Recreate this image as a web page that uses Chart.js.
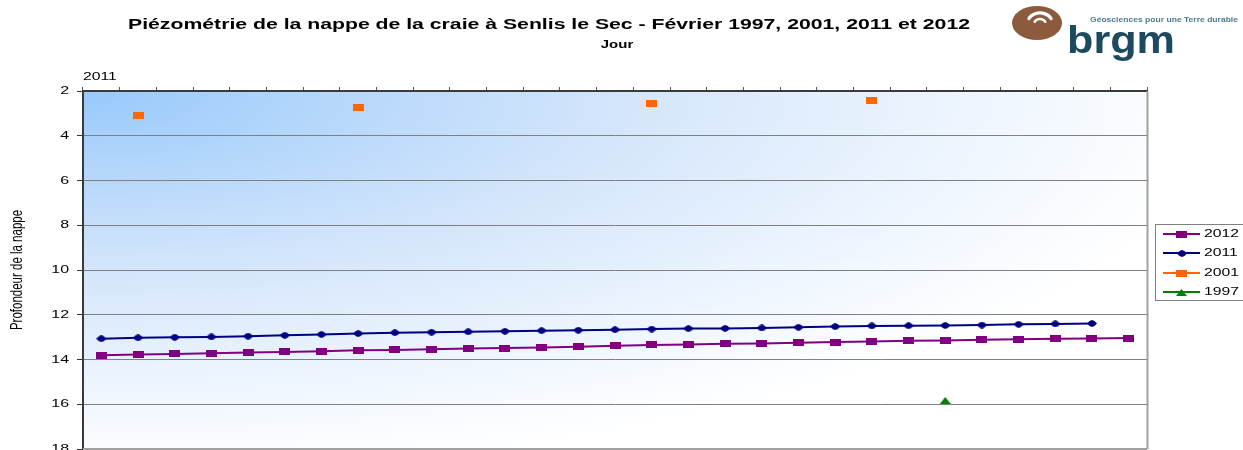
<!DOCTYPE html>
<html><head><meta charset="utf-8">
<script src="https://cdn.jsdelivr.net/npm/chart.js@4.4.1/dist/chart.umd.min.js"></script>
<style>
html,body{margin:0;padding:0;background:#fff;overflow:hidden;width:1243px;height:450px}
#wrap{position:relative;width:1243px;height:450px;overflow:hidden}
canvas{display:block}
</style>
</head><body><div id="wrap"><canvas id="c" width="1243" height="456" style="width:1243px;height:456px"></canvas></div>
<script>
// ---- Données ----
const jours = ['1','2','3','4','5','6','7','8','9','10','11','12','13','14','15','16','17','18','19','20','21','22','23','24','25','26','27','28','29'];
const profondeur2012 = [13.81,13.78,13.75,13.72,13.69,13.66,13.63,13.59,13.57,13.54,13.51,13.49,13.46,13.43,13.39,13.35,13.33,13.30,13.28,13.25,13.22,13.19,13.16,13.15,13.12,13.09,13.07,13.06,13.04];
const profondeur2011 = [13.07,13.03,13.01,12.99,12.96,12.92,12.88,12.84,12.80,12.78,12.76,12.74,12.71,12.69,12.67,12.64,12.62,12.61,12.59,12.56,12.53,12.50,12.49,12.48,12.46,12.43,12.41,12.39];
const jours2001 = [2, 8, 16, 22];
const profondeur2001 = [3.08, 2.74, 2.55, 2.43];
const jours1997 = [24];
const profondeur1997 = [15.83];
const yMin = 2, yMax = 18, yPas = 2;
const titre = 'Piézométrie de la nappe de la craie à Senlis le Sec - Février 1997, 2001, 2011 et 2012';
const titreX = 'Jour';
const titreY = 'Profondeur de la nappe';
const etiquetteAnnee = '2011';
const logoSlogan = 'Géosciences pour une Terre durable';
const logoNom = 'brgm';

function sparse(days, vals) {
  const arr = jours.map(() => null);
  days.forEach((d, i) => { arr[jours.indexOf(String(d))] = vals[i]; });
  return arr;
}

// ---- Marqueurs ----
function mk(w, h, draw) { const c = document.createElement('canvas'); c.width = w; c.height = h; draw(c.getContext('2d'), w, h); return c; }
const mSquarePurple = mk(11, 7, (g, w, h) => { g.fillStyle = '#800080'; g.fillRect(0, 0, w, h); });
const mSquareOrange = mk(11, 7, (g, w, h) => { g.fillStyle = '#ff6600'; g.fillRect(0, 0, w, h); });
const mDiamond = mk(10, 7, (g, w, h) => { g.fillStyle = '#000080'; g.beginPath(); g.moveTo(0, h/2); g.quadraticCurveTo(w/4, 0.3, w/2, 0); g.quadraticCurveTo(3*w/4, 0.3, w, h/2); g.quadraticCurveTo(3*w/4, h-0.3, w/2, h); g.quadraticCurveTo(w/4, h-0.3, 0, h/2); g.fill(); });
const mTriangle = mk(11, 7, (g, w, h) => { g.fillStyle = '#008000'; g.beginPath(); g.moveTo(w/2, 0); g.lineTo(w, h); g.lineTo(0, h); g.closePath(); g.fill(); });

const FONT = '"Liberation Sans", Arial, Helvetica, sans-serif';

function txt(ctx, s, x, y, font, color, align, sx, fitW) {
  ctx.save();
  ctx.font = font; ctx.fillStyle = color; ctx.textBaseline = 'middle'; ctx.textAlign = align;
  let k = sx;
  if (fitW) k = fitW / ctx.measureText(s).width;
  ctx.translate(x, y); ctx.scale(k, 1);
  ctx.fillText(s, 0, 0);
  ctx.restore();
}

const decor = {
  id: 'decor',
  beforeDraw(chart) {
    const ctx = chart.ctx, a = chart.chartArea;
    ctx.save();
    ctx.fillStyle = '#ffffff'; ctx.fillRect(0, 0, chart.width, chart.height);
    ctx.beginPath(); ctx.rect(a.left, a.top, a.right - a.left, a.bottom - a.top); ctx.clip();
    ctx.translate(a.left, a.top); ctx.scale(1, 1/3);
    const g = ctx.createRadialGradient(0, 0, 0, 0, 0, 1150);
    g.addColorStop(0, '#98c9fb');
    g.addColorStop(0.2, '#b3d6fb');
    g.addColorStop(0.46, '#d3e5fb');
    g.addColorStop(0.75, '#ecf4fe');
    g.addColorStop(1, '#ffffff');
    ctx.fillStyle = g; ctx.fillRect(0, 0, a.right - a.left + 2, (a.bottom - a.top) * 3 + 2);
    ctx.restore();
  },
  afterDraw(chart) {
    const ctx = chart.ctx, a = chart.chartArea, ys = chart.scales.y;
    ctx.save();
    ctx.strokeStyle = '#a0a0a0'; ctx.lineWidth = 2;
    ctx.beginPath(); ctx.moveTo(a.right + 0.5, a.top); ctx.lineTo(a.right + 0.5, a.bottom); ctx.stroke();
    ctx.beginPath(); ctx.moveTo(a.left, a.bottom); ctx.lineTo(a.right, a.bottom); ctx.stroke();
    ctx.restore();
    ys.ticks.forEach(t => {
      txt(ctx, String(t.value), a.left - 14, ys.getPixelForValue(t.value), '11px ' + FONT, '#000', 'right', 1.45);
    });
    ctx.save();
    ctx.translate(17.5, (a.top + a.bottom) / 2); ctx.scale(1.4, 1); ctx.rotate(-Math.PI / 2);
    ctx.font = '11.5px ' + FONT; ctx.fillStyle = '#000'; ctx.textAlign = 'center'; ctx.textBaseline = 'middle';
    ctx.fillText(titreY, 0, 0);
    ctx.restore();
    txt(ctx, titre, 549, 25, 'bold 14px ' + FONT, '#000', 'center', 1, 842);
    txt(ctx, titreX, (a.left + a.right) / 2 + 2, 45, 'bold 11px ' + FONT, '#000', 'center', 1.36);
    txt(ctx, etiquetteAnnee, a.left, 77, '11px ' + FONT, '#000', 'left', 1.43);
    ctx.save();
    ctx.fillStyle = '#ffffff'; ctx.fillRect(1156, 224, 90, 77);
    ctx.strokeStyle = '#808080'; ctx.lineWidth = 1; ctx.strokeRect(1155.5, 224.5, 90, 76);
    ctx.restore();
    [0, 1, 2, 3].forEach((di, i) => {
      const ds = chart.data.datasets[di];
      const y = Math.round(234 + i * 19.4);
      ctx.save();
      ctx.strokeStyle = ds.borderColor; ctx.lineWidth = 2;
      ctx.beginPath(); ctx.moveTo(1163, y); ctx.lineTo(1200, y); ctx.stroke();
      const m = ds.pointStyle;
      ctx.drawImage(m, Math.round(1181.5 - m.width / 2), Math.round(y - m.height / 2));
      ctx.restore();
      txt(ctx, ds.label, 1204, y, '11px ' + FONT, '#000', 'left', 1.43);
    });
    ctx.save();
    ctx.fillStyle = '#8c5b3d';
    ctx.beginPath(); ctx.ellipse(1037, 23, 25, 17, 0, 0, Math.PI * 2); ctx.fill();
    ctx.strokeStyle = '#ffffff'; ctx.lineCap = 'round';
    ctx.lineWidth = 3.2;
    ctx.beginPath(); ctx.ellipse(1040, 22, 12, 9, 0, Math.PI * 1.12, Math.PI * 1.88); ctx.stroke();
    ctx.lineWidth = 2.6;
    ctx.beginPath(); ctx.ellipse(1040, 23, 5.5, 4, 0, Math.PI * 1.1, Math.PI * 1.9); ctx.stroke();
    ctx.restore();
    txt(ctx, logoSlogan, 1090, 20, 'bold 8px ' + FONT, '#4d7b8c', 'left', 1, 148);
    ctx.save();
    ctx.font = 'bold 38px ' + FONT; ctx.fillStyle = '#1c4a5e'; ctx.textBaseline = 'alphabetic'; ctx.textAlign = 'left';
    const w = ctx.measureText(logoNom).width;
    ctx.translate(1067, 53); ctx.scale(108 / w, 1);
    ctx.fillText(logoNom, 0, 0);
    ctx.restore();
  }
};

new Chart(document.getElementById('c'), {
  type: 'line',
  data: {
    labels: jours,
    datasets: [
      { label: '2012', data: profondeur2012, borderColor: '#800080', backgroundColor: '#800080', borderWidth: 2, pointStyle: mSquarePurple, pointRadius: 5, order: 1 },
      { label: '2011', data: profondeur2011.concat([null]), borderColor: '#000080', backgroundColor: '#000080', borderWidth: 2, pointStyle: mDiamond, pointRadius: 5, order: 2 },
      { label: '2001', data: sparse(jours2001, profondeur2001), borderColor: '#ff6600', backgroundColor: '#ff6600', borderWidth: 2, pointStyle: mSquareOrange, pointRadius: 5, spanGaps: false, order: 3 },
      { label: '1997', data: sparse(jours1997, profondeur1997), borderColor: '#008000', backgroundColor: '#008000', borderWidth: 2, pointStyle: mTriangle, pointRadius: 5, spanGaps: false, order: 4 }
    ]
  },
  options: {
    responsive: false,
    animation: false,
    events: [],
    layout: { padding: { left: 0, right: 96, top: 87, bottom: 3 } },
    plugins: { legend: { display: false }, title: { display: false }, tooltip: { enabled: false } },
    scales: {
      x: {
        type: 'category', position: 'top', offset: true,
        grid: { display: true, drawOnChartArea: false, drawTicks: true, tickLength: 4, color: '#555', offset: true },
        border: { display: true, color: '#3a3a3a', width: 2 },
        ticks: { display: false },
        afterFit: s => { s.height = 4; }
      },
      y: {
        reverse: true, min: yMin, max: yMax,
        ticks: { display: false, stepSize: yPas },
        grid: { color: '#808080', lineWidth: 1, drawTicks: true, tickLength: 6, tickColor: '#333' },
        border: { display: true, color: '#3a3a3a', width: 2 },
        afterFit: s => { s.width = 83; }
      }
    }
  },
  plugins: [decor]
});
</script>
</body></html>
